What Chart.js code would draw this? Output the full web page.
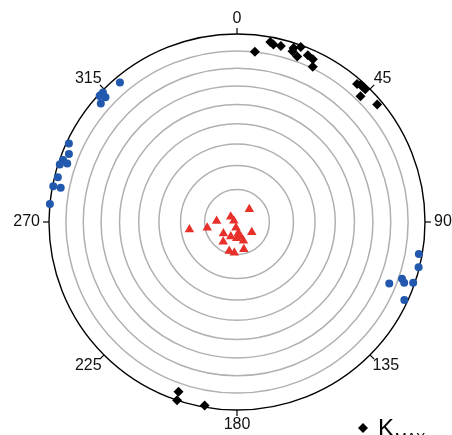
<!DOCTYPE html>
<html>
<head>
<meta charset="utf-8">
<script src="https://cdn.jsdelivr.net/npm/chart.js@4/dist/chart.umd.min.js"></script>
<style>
  html, body { margin: 0; padding: 0; background: #fff; }
  #wrap { width: 452px; height: 435px; position: relative; }
</style>
</head>
<body>
<div id="wrap"><canvas id="stereo"></canvas></div>
<script>
// azimuth (deg) and inclination (deg)
const kmaxAz  = [6, 10.5, 11.6, 14, 18, 18, 20, 20, 23, 25, 26, 41, 42, 43, 44, 44.5, 50, 199, 198.6, 190]
const kmaxInc = [10, 3, 4, 4, 3, 5, 1, 7, 4, 5, 9, 3, 2, 2, 2, 7, 3, 5, 0, 1]

const kintAz  = [320, 313, 314, 313.5, 312.5, 311, 295, 292, 289.6, 288, 289, 284, 281, 281, 275.5,
                 100, 104, 109, 110, 112, 109, 115]
const kintInc = [3.5, 1, 1, 4, 1, 4.5, 1.5, 4, 2, 1, 5, 2, 0.5, 5, 0,
                 2, 0.5, 8, 6, 14, 1, 2]

const kminAz  = [44, 310, 293, 273, 261, 259, 190, 230, 203, 173, 166, 181, 161, 125, 215, 195, 185, 166]
const kminInc = [85.3, 88.2, 89.4, 84.4, 73.6, 80.8, 88.8, 85.3, 85.9, 87.3, 86.1, 85.8, 84.6, 85.2, 83.1, 80.9, 80.6, 81.6]

const ringInc = [10, 20, 30, 40, 50, 60, 70, 80]
const azLabels = [0, 45, 90, 135, 180, 225, 270, 315]

// inclination -> normalised radius (0 centre, 1 rim)
function radiusOf(inc) {
  return Math.pow((90 - inc) / 90, 0.8)
}

function toPoints(azs, incs) {
  return azs.map((az, i) => {
    const r = radiusOf(incs[i])
    const a = az * Math.PI / 180
    return { x: r * Math.sin(a), y: r * Math.cos(a) }
  })
}

const netPlugin = {
  id: 'net',
  beforeDatasetsDraw(chart) {
    const { ctx, scales } = chart
    const cx = scales.x.getPixelForValue(0)
    const cy = scales.y.getPixelForValue(0)
    const R = scales.x.getPixelForValue(1) - cx
    ctx.save()
    ctx.strokeStyle = '#b0b0b0'
    ctx.lineWidth = 1.5
    ringInc.forEach(inc => {
      ctx.beginPath()
      ctx.arc(cx, cy, R * radiusOf(inc), 0, Math.PI * 2)
      ctx.stroke()
    })
    // outer rim
    ctx.strokeStyle = '#000'
    ctx.lineWidth = 1.4
    ctx.beginPath()
    ctx.arc(cx, cy, R, 0, Math.PI * 2)
    ctx.stroke()
    // ticks and labels
    ctx.lineWidth = 1.2
    ctx.fillStyle = '#111'
    ctx.font = '16px "Liberation Sans", Arial, sans-serif'
    ctx.textAlign = 'center'
    ctx.textBaseline = 'middle'
    azLabels.forEach(az => {
      const a = az * Math.PI / 180
      const s = Math.sin(a), c = Math.cos(a)
      ctx.beginPath()
      ctx.moveTo(cx + R * s, cy - R * c)
      ctx.lineTo(cx + (R + 6) * s, cy - (R + 6) * c)
      ctx.stroke()
      const txt = String(az)
      const w = ctx.measureText(txt).width
      const h = 12
      const x = cx + (R + 9) * s + (w / 2) * s
      const y = cy - (R + 9) * c - (h / 2) * c
      ctx.fillText(txt, x, y)
    })
    ctx.restore()
  },
  afterDraw(chart) {
    // legend entry at bottom right
    const { ctx } = chart
    ctx.save()
    ctx.fillStyle = '#000'
    const lx = 363, ly = 428
    ctx.beginPath()
    ctx.moveTo(lx, ly - 5)
    ctx.lineTo(lx + 5, ly)
    ctx.lineTo(lx, ly + 5)
    ctx.lineTo(lx - 5, ly)
    ctx.closePath()
    ctx.fill()
    ctx.font = '24px "Liberation Sans", Arial, sans-serif'
    ctx.textAlign = 'left'
    ctx.textBaseline = 'alphabetic'
    ctx.fillText('K', 378, 436)
    const kw = ctx.measureText('K').width
    ctx.font = '14px "Liberation Sans", Arial, sans-serif'
    ctx.fillText('MAX', 378 + kw + 1, 443)
    ctx.restore()
  }
}

new Chart(document.getElementById('stereo'), {
  type: 'scatter',
  data: {
    datasets: [
      {
        label: 'Kmin',
        data: toPoints(kminAz, kminInc),
        pointStyle: 'triangle',
        pointRadius: 5.5,
        backgroundColor: '#e8302b',
        borderColor: '#e8302b',
        borderWidth: 0,
        clip: false
      },
      {
        label: 'Kint',
        data: toPoints(kintAz, kintInc),
        pointStyle: 'circle',
        pointRadius: 4,
        backgroundColor: '#2259ae',
        borderColor: '#2259ae',
        borderWidth: 0,
        clip: false
      },
      {
        label: 'Kmax',
        data: toPoints(kmaxAz, kmaxInc),
        pointStyle: 'rectRot',
        pointRadius: 5,
        backgroundColor: '#000',
        borderColor: '#000',
        borderWidth: 0,
        clip: false
      }
    ]
  },
  options: {
    responsive: true,
    maintainAspectRatio: false,
    animation: false,
    layout: { padding: { left: 49, right: 27, top: 34, bottom: 25 } },
    plugins: {
      legend: { display: false },
      title: { display: false },
      tooltip: { enabled: false }
    },
    scales: {
      x: { type: 'linear', min: -1, max: 1, display: false },
      y: { type: 'linear', min: -1, max: 1, display: false }
    }
  },
  plugins: [netPlugin]
})
</script>
</body>
</html>
